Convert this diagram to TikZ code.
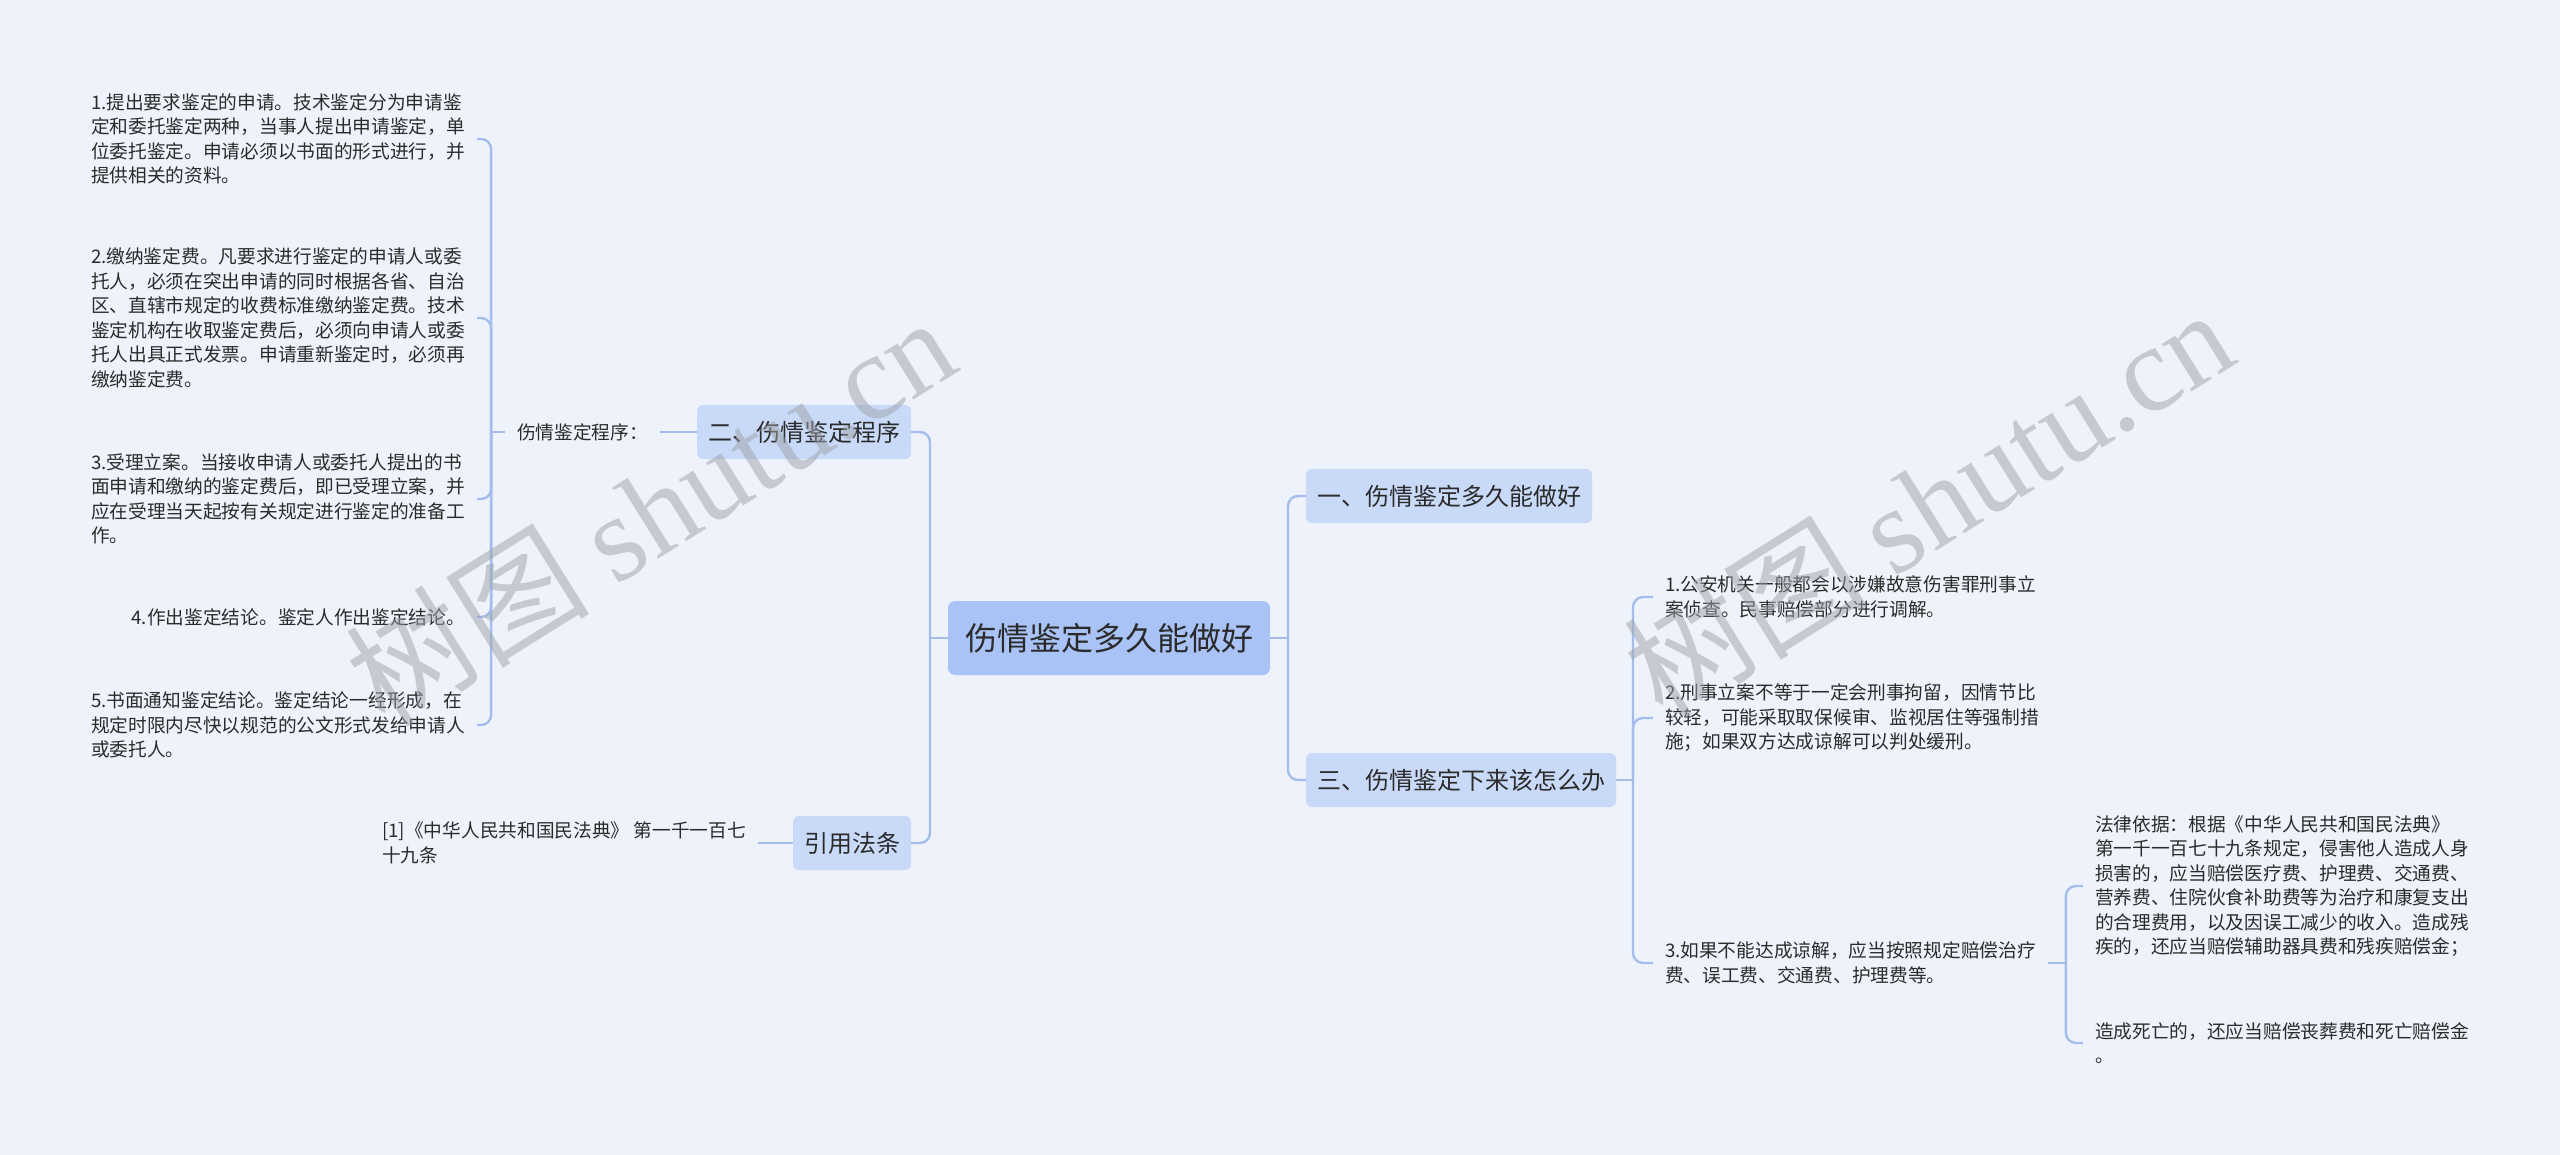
\documentclass[tikz,border=0pt]{standalone}
\usepackage{fontspec}
\setmainfont{Noto Sans CJK SC}
\newfontfamily\wmlatin{Liberation Serif}
\usetikzlibrary{positioning, calc}

\definecolor{paper}{HTML}{EEF3FB}
\definecolor{rootfill}{HTML}{A9C3F6}
\definecolor{branchfill}{HTML}{C9DAF8}
\definecolor{linkblue}{HTML}{A4BDEC}
\definecolor{ink}{HTML}{2B2B2B}
\definecolor{wmgray}{HTML}{9EA2AA}

\tikzset{
  rootbox/.style = {fill = rootfill, rounded corners = 7pt, outer sep = 0pt,
    inner xsep = 17pt, minimum height = 74pt, text = ink,
    font = \fontsize{32}{38}\selectfont},
  branchbox/.style = {fill = branchfill, rounded corners = 6pt, outer sep = 0pt,
    inner xsep = 11pt, minimum height = 54pt, text = ink,
    font = \fontsize{24}{28}\selectfont},
  leaftext/.style = {align = left, outer sep = 0pt, inner xsep = 12pt,
    inner ysep = 2pt, text = ink, font = \fontsize{18.7}{24.5}\selectfont},
  linkline/.style = {draw = linkblue, line width = 2.4pt, rounded corners = 10pt},
  wmtext/.style = {text = wmgray, text opacity = 0.5, rotate = 32,
    font = \fontsize{122}{122}\selectfont}
}

\begin{document}
\begin{tikzpicture}[x = 1pt, y = -1pt]

\fill [paper] (0,0) rectangle (2560,1155);
\useasboundingbox (0,0) rectangle (2560,1155);

\node [rootbox] (root) at (1109,638) {伤情鉴定多久能做好};

\node [branchbox, anchor = east] (proc) at (911,432) {二、伤情鉴定程序};
\node [branchbox, anchor = east] (cite) at (911,843) {引用法条};
\node [branchbox, anchor = west] (howlong) at (1306,496) {一、伤情鉴定多久能做好};
\node [branchbox, anchor = west] (after) at (1306,780) {三、伤情鉴定下来该怎么办};

\node [leaftext, left = 37pt of proc] (steps) {伤情鉴定程序：};
\node [leaftext, left = 35pt of cite] (law) {[1]《中华人民共和国民法典》 第一千一百七\\十九条};

\node [leaftext, anchor = east] (s1) at (477,139) {1.提出要求鉴定的申请。技术鉴定分为申请鉴\\定和委托鉴定两种，当事人提出申请鉴定，单\\位委托鉴定。申请必须以书面的形式进行，并\\提供相关的资料。};
\node [leaftext, anchor = east] (s2) at (477,318) {2.缴纳鉴定费。凡要求进行鉴定的申请人或委\\托人，必须在突出申请的同时根据各省、自治\\区、直辖市规定的收费标准缴纳鉴定费。技术\\鉴定机构在收取鉴定费后，必须向申请人或委\\托人出具正式发票。申请重新鉴定时，必须再\\缴纳鉴定费。};
\node [leaftext, anchor = east] (s3) at (477,499) {3.受理立案。当接收申请人或委托人提出的书\\面申请和缴纳的鉴定费后，即已受理立案，并\\应在受理当天起按有关规定进行鉴定的准备工\\作。};
\node [leaftext, anchor = east] (s4) at (477,617) {4.作出鉴定结论。鉴定人作出鉴定结论。};
\node [leaftext, anchor = east] (s5) at (477,725) {5.书面通知鉴定结论。鉴定结论一经形成，在\\规定时限内尽快以规范的公文形式发给申请人\\或委托人。};

\node [leaftext, anchor = west] (r1) at (1653,597) {1.公安机关一般都会以涉嫌故意伤害罪刑事立\\案侦查。民事赔偿部分进行调解。};
\node [leaftext, anchor = west] (r2) at (1653,718) {2.刑事立案不等于一定会刑事拘留，因情节比\\较轻，可能采取取保候审、监视居住等强制措\\施；如果双方达成谅解可以判处缓刑。};
\node [leaftext, anchor = west] (r3) at (1653,963) {3.如果不能达成谅解，应当按照规定赔偿治疗\\费、误工费、交通费、护理费等。};

\node [leaftext, anchor = west] (q1) at (2083,886) {法律依据：根据《中华人民共和国民法典》\\第一千一百七十九条规定，侵害他人造成人身\\损害的，应当赔偿医疗费、护理费、交通费、\\营养费、住院伙食补助费等为治疗和康复支出\\的合理费用，以及因误工减少的收入。造成残\\疾的，还应当赔偿辅助器具费和残疾赔偿金；};
\node [leaftext, anchor = west] (q2) at (2083,1043) {造成死亡的，还应当赔偿丧葬费和死亡赔偿金\\。};

\draw [linkline] (root.west) -- ++(-18,0);
\foreach \n in {proc, cite}
  \draw [linkline] ($(root.west)+(-18,0)$) |- (\n.east);
\draw [linkline] (root.east) -- ++(18,0);
\foreach \n in {howlong, after}
  \draw [linkline] ($(root.east)+(18,0)$) |- (\n.west);

\draw [linkline] (proc.west) -- (steps.east);
\draw [linkline] (cite.west) -- (law.east);

\draw [linkline] (steps.west) -- ++(-14,0);
\foreach \n in {s1, s2, s3, s4, s5}
  \draw [linkline] ($(steps.west)+(-14,0)$) |- (\n.east);

\draw [linkline] (after.east) -- ++(17,0);
\foreach \n in {r1, r2, r3}
  \draw [linkline] ($(after.east)+(17,0)$) |- (\n.west);

\draw [linkline] (r3.east) -- ++(18,0);
\foreach \n in {q1, q2}
  \draw [linkline] ($(r3.east)+(18,0)$) |- (\n.west);

\node [wmtext] (wm1) at (650,510) {树图 {\wmlatin shutu.cn}};
\node [wmtext] (wm2) at (1928,502) {树图 {\wmlatin shutu.cn}};

\end{tikzpicture}
\end{document}
